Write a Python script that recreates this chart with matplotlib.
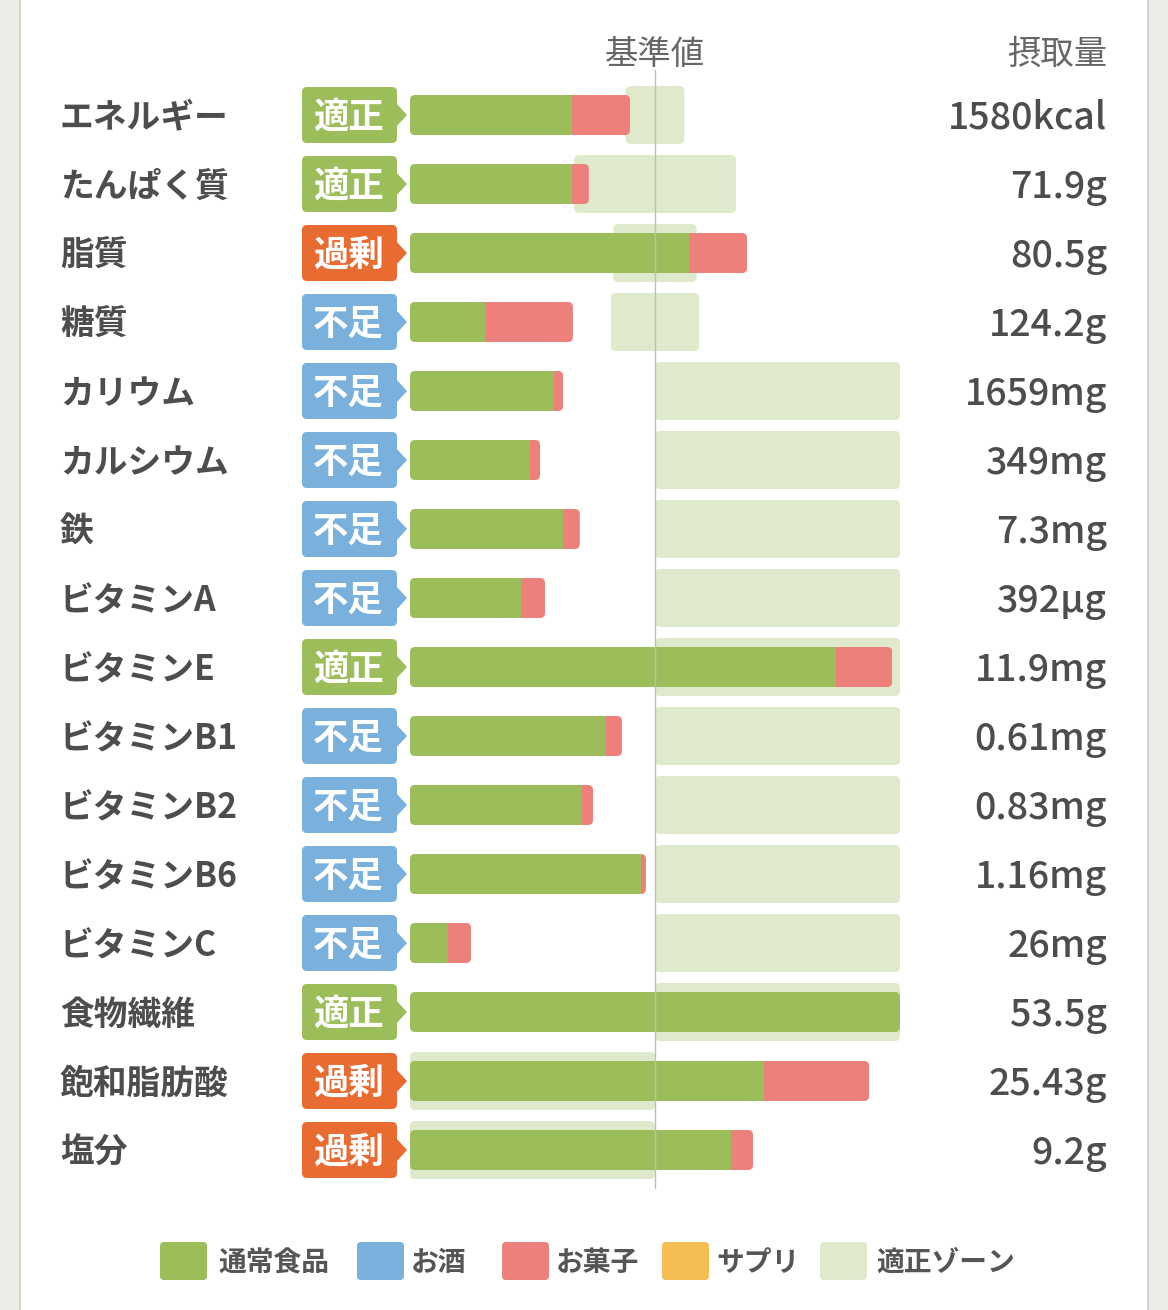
import matplotlib
matplotlib.use("Agg")
import matplotlib.pyplot as plt
from matplotlib.patches import FancyBboxPatch, Polygon, Rectangle

plt.rcParams['font.family'] = ['Noto Sans CJK JP', 'DejaVu Sans']

# ---------------- data ----------------
nutrients = ["エネルギー", "たんぱく質", "脂質", "糖質", "カリウム", "カルシウム", "鉄",
             "ビタミンA", "ビタミンE", "ビタミンB1", "ビタミンB2", "ビタミンB6",
             "ビタミンC", "食物繊維", "飽和脂肪酸", "塩分"]
status = ["適正", "適正", "過剰", "不足", "不足", "不足", "不足", "不足",
          "適正", "不足", "不足", "不足", "不足", "適正", "過剰", "過剰"]
# percentage of the reference value (基準値 = 100)
food_pct = [66.1, 66.1, 113.9, 30.6, 58.8, 49.0, 62.4, 45.3,
            173.9, 79.6, 69.8, 94.3, 15.5, 200.0, 144.5, 131.0]
snack_pct = [23.7, 6.9, 23.7, 35.9, 3.7, 4.1, 6.9, 9.8,
             22.9, 6.9, 4.9, 2.0, 9.4, 0.0, 42.9, 9.0]
zone_lo = [88, 67, 83, 82, 100, 100, 100, 100, 100, 100, 100, 100, 100, 100, 0, 0]
zone_hi = [112, 133, 117, 118, 200, 200, 200, 200, 200, 200, 200, 200, 200, 200, 100, 100]
intake = ["1580kcal", "71.9g", "80.5g", "124.2g", "1659mg", "349mg", "7.3mg", "392μg",
          "11.9mg", "0.61mg", "0.83mg", "1.16mg", "26mg", "53.5g", "25.43g", "9.2g"]
legend_labels = ["通常食品", "お酒", "お菓子", "サプリ", "適正ゾーン"]

# ---------------- style ----------------
C_FOOD = "#9BBE5A"
C_ALC = "#7AB0DC"
C_SNACK = "#EE807C"
C_SUPP = "#F5BE55"
C_ZONE = "#DFE9CC"
badge_colors = {"適正": "#9BBE5A", "過剰": "#E86B32", "不足": "#7AB0DC"}
TXT = "#4d4d4d"

W, H = 1168, 1310
X0, PPP = 410.0, 2.45          # pixel of 0 %, pixels per percent
Y0, ROW = 115.0, 69.0          # pixel of first row centre, pixels per row

def px2x(px):
    return (px - X0) / PPP

def px2y(py):
    return (py - Y0) / ROW

def dx(px):
    return px / PPP

def dy(py):
    return py / ROW

ASPECT = (1 / ROW) / (1 / PPP)

fig = plt.figure(figsize=(W / 100, H / 100), dpi=100, facecolor="white")
ax = fig.add_axes([0, 0, 1, 1])
ax.set_xlim(px2x(0), px2x(W))
ax.set_ylim(px2y(H), px2y(0))
ax.axis("off")

# side frame
ax.add_patch(Rectangle((px2x(0), px2y(0)), dx(19), dy(H), color="#EDEDE7", lw=0, zorder=0))
ax.add_patch(Rectangle((px2x(19), px2y(0)), dx(2), dy(H), color="#D6D6D0", lw=0, zorder=0))
ax.add_patch(Rectangle((px2x(1147), px2y(0)), dx(2), dy(H), color="#D6D6D0", lw=0, zorder=0))
ax.add_patch(Rectangle((px2x(1149), px2y(0)), dx(19), dy(H), color="#EDEDE7", lw=0, zorder=0))

def rbox(x, y, w, h, r_px, **kw):
    return FancyBboxPatch((x, y), w, h,
                          boxstyle=f"round,pad=0,rounding_size={dx(r_px)}",
                          mutation_aspect=ASPECT, **kw)

BAR_H = dy(40)
ZONE_H = dy(58)
BADGE_H = dy(56)
TOFF = dy(2.5)   # small downward shift of text baselines

for i, name in enumerate(nutrients):
    # zone
    ax.add_patch(rbox(zone_lo[i], i - ZONE_H / 2, zone_hi[i] - zone_lo[i], ZONE_H, 5,
                      facecolor=C_ZONE, edgecolor="none", zorder=1))
    # bars
    total = min(food_pct[i] + snack_pct[i], 200)
    clip = rbox(0, i - BAR_H / 2, total, BAR_H, 5, facecolor="none", edgecolor="none")
    clip.set_transform(ax.transData)
    b1 = ax.barh(i, food_pct[i], height=BAR_H, left=0, color=C_FOOD, lw=0, zorder=2)
    b2 = ax.barh(i, snack_pct[i], height=BAR_H, left=food_pct[i], color=C_SNACK, lw=0, zorder=2)
    for p in list(b1) + list(b2):
        p.set_clip_path(clip)
    # badge
    col = badge_colors[status[i]]
    ax.add_patch(rbox(px2x(302), i - BADGE_H / 2, dx(95), BADGE_H, 5,
                      facecolor=col, edgecolor="none", zorder=3))
    ax.add_patch(Polygon([(px2x(396), i - dy(12)), (px2x(407), i), (px2x(396), i + dy(12))],
                         closed=True, facecolor=col, edgecolor="none", zorder=3))
    ax.text(px2x(348), i + TOFF, status[i], ha="center", va="center", color="white",
            fontsize=25.5, fontweight="bold", zorder=4)
    # label
    ax.text(px2x(60), i + TOFF, name, ha="left", va="center", color=TXT,
            fontsize=24.3, fontweight="bold", zorder=4)
    # value
    ax.text(px2x(1107), i + TOFF, intake[i], ha="right", va="center", color=TXT,
            fontsize=27, fontweight="medium", zorder=4)

# reference line
ax.plot([100, 100], [px2y(70), px2y(1188)], color="#BDBDBD", lw=1, zorder=5)

# headers
ax.text(100, px2y(54), "基準値", ha="center", va="center", color="#666666", fontsize=24)
ax.text(px2x(1107), px2y(54), "摂取量", ha="right", va="center", color="#666666", fontsize=24)

# legend
leg_colors = [C_FOOD, C_ALC, C_SNACK, C_SUPP, C_ZONE]
leg_sq_x = [160, 357, 502, 662, 820]
leg_tx_x = [218, 411, 556, 716, 876]
for c, sx, tx, lab in zip(leg_colors, leg_sq_x, leg_tx_x, legend_labels):
    ax.add_patch(rbox(px2x(sx), px2y(1242), dx(47), dy(38), 4,
                      facecolor=c, edgecolor="none", zorder=3))
    ax.text(px2x(tx), px2y(1263), lab, ha="left", va="center", color="#555555",
            fontsize=20, fontweight="bold")

fig.savefig("out.png", dpi=100, facecolor="white")
